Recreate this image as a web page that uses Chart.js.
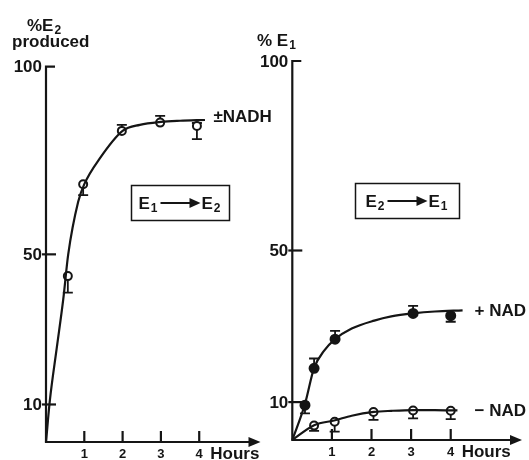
<!DOCTYPE html>
<html>
<head>
<meta charset="utf-8">
<script src="https://cdn.jsdelivr.net/npm/chart.js@4.4.0/dist/chart.umd.min.js"></script>
<style>
  html, body { margin: 0; padding: 0; background: #fff; }
  #wrap { position: relative; width: 529px; height: 460px; overflow: hidden; }
  #wrap canvas { position: absolute; top: 0; }
  #leftChart { left: 0; }
  #rightChart { left: 240px; }
</style>
</head>
<body>
<div id="wrap">
  <canvas id="leftChart" width="290" height="460"></canvas>
  <canvas id="rightChart" width="289" height="460"></canvas>
</div>
<script>
  const INK = '#151515';
  const FONT = '"Liberation Sans", Arial, Helvetica, sans-serif';

  // shared axis ticks
  const yTicks = [10, 50, 100];
  const xTicks = [1, 2, 3, 4];

  // left panel: E1 -> E2, % E2 produced (+/- NADH)
  const leftHours = [0.57, 0.97, 1.98, 2.98, 3.94];
  const leftPct = [44.2, 68.7, 82.9, 85.1, 84.2];
  const leftErrLow = [39.8, 65.8, null, null, 80.7];
  const leftErrHigh = [null, null, 84.5, 86.9, 85.0];
  const leftCurveHours = [0, 0.1, 0.28, 0.45, 0.58, 0.84, 1, 1.4, 2, 2.45, 3, 3.5, 4.15];
  const leftCurvePct = [0, 11, 25, 38, 50, 64, 68.7, 75.5, 82.9, 84.5, 85.3, 85.6, 85.8];

  // right panel: E2 -> E1, % E1 (+NAD filled, -NAD open)
  const plusHours = [0.32, 0.55, 1.08, 3.05, 4.0];
  const plusPct = [9.2, 18.9, 26.6, 33.4, 32.8];
  const plusErrLow = [7.0, null, null, null, 31.2];
  const plusErrHigh = [null, 21.5, 28.8, 35.4, null];
  const plusCurveHours = [0, 0.32, 0.55, 0.8, 1.08, 1.5, 2.07, 2.5, 3.05, 3.6, 4.3];
  const plusCurvePct = [0, 9.5, 19, 23.5, 26.6, 29.4, 31.5, 32.6, 33.4, 33.9, 34.2];

  const minusHours = [0.55, 1.07, 2.05, 3.05, 4.0];
  const minusPct = [3.8, 4.8, 7.4, 7.8, 7.7];
  const minusErrLow = [2.4, 2.2, 5.3, 5.7, 5.5];
  const minusErrHigh = [null, null, null, null, null];
  const minusCurveHours = [0, 0.55, 1.08, 1.5, 2.06, 2.5, 3.05, 3.6, 4.17];
  const minusCurvePct = [0, 3.9, 5.2, 6.4, 7.4, 7.7, 7.9, 7.9, 7.8];

  const toXY = (xs, ys) => xs.map((h, i) => ({ x: h, y: ys[i] }));

  function curve(xs, ys) {
    return {
      data: toXY(xs, ys),
      showLine: true,
      pointRadius: 0,
      borderColor: INK,
      borderWidth: 2.2,
      cubicInterpolationMode: 'monotone',
      clip: false
    };
  }

  function points(xs, ys, filled) {
    return {
      data: toXY(xs, ys),
      showLine: false,
      pointStyle: 'circle',
      pointRadius: filled ? 4.5 : 4,
      backgroundColor: filled ? INK : '#fff',
      borderColor: INK,
      borderWidth: 2,
      clip: false
    };
  }

  // text with a subscript, e.g. E + "2"
  function subText(ctx, x, y, main, sub, size) {
    ctx.font = `bold ${size}px ${FONT}`;
    ctx.fillText(main, x, y);
    const w = ctx.measureText(main).width;
    ctx.font = `bold ${Math.round(size * 0.68)}px ${FONT}`;
    ctx.fillText(sub, x + w + 1, y + size * 0.2);
    return w + 1 + ctx.measureText(sub).width;
  }

  function drawReaction(ctx, box, from, to) {
    ctx.lineWidth = 1.5;
    ctx.strokeRect(box.x, box.y, box.w, box.h);
    ctx.textAlign = 'left';
    ctx.textBaseline = 'alphabetic';
    const base = box.y + box.h / 2 + 6;
    const arrowLen = 40;
    ctx.font = `bold 17px ${FONT}`;
    const eW = ctx.measureText('E').width;
    ctx.font = `bold 12px ${FONT}`;
    const sW = ctx.measureText('1').width;
    const total = 2 * (eW + 1 + sW) + arrowLen + 6;
    let x = box.x + (box.w - total) / 2;
    x += subText(ctx, x, base, 'E', from, 17) + 3;
    const ay = base - 6;
    ctx.lineWidth = 2;
    ctx.beginPath(); ctx.moveTo(x, ay); ctx.lineTo(x + arrowLen - 9, ay); ctx.stroke();
    ctx.beginPath();
    ctx.moveTo(x + arrowLen, ay);
    ctx.lineTo(x + arrowLen - 11, ay - 5);
    ctx.lineTo(x + arrowLen - 11, ay + 5);
    ctx.closePath(); ctx.fill();
    x += arrowLen + 1;
    subText(ctx, x, base, 'E', to, 17);
  }

  function panelPlugin(cfg) {
    return {
      id: 'panel',
      beforeDatasetsDraw(chart) {
        const { ctx, scales: { x, y } } = chart;
        const x0 = x.getPixelForValue(0);
        const y0 = y.getPixelForValue(0);
        const xEnd = x.getPixelForValue(x.max);
        const yTop = y.getPixelForValue(100);
        ctx.save();
        ctx.strokeStyle = INK;
        ctx.fillStyle = INK;
        ctx.lineWidth = 2.2;

        // axes
        ctx.beginPath();
        ctx.moveTo(x0 + 9, yTop); ctx.lineTo(x0, yTop); ctx.lineTo(x0, y0); ctx.lineTo(xEnd - 8, y0);
        ctx.stroke();
        ctx.beginPath();
        ctx.moveTo(xEnd, y0); ctx.lineTo(xEnd - 12, y0 - 5); ctx.lineTo(xEnd - 12, y0 + 5);
        ctx.closePath(); ctx.fill();

        // y ticks
        ctx.font = `bold 17px ${FONT}`;
        ctx.textAlign = 'right';
        ctx.textBaseline = 'middle';
        yTicks.forEach(v => {
          const py = y.getPixelForValue(v);
          if (v !== 100) {
            ctx.beginPath(); ctx.moveTo(x0 - 4, py); ctx.lineTo(x0 + 10, py); ctx.stroke();
          }
          ctx.fillText(String(v), x0 - 4, py + 1);
        });

        // x ticks
        ctx.font = `bold 13px ${FONT}`;
        ctx.textAlign = 'center';
        xTicks.forEach(h => {
          const px = x.getPixelForValue(h);
          ctx.beginPath(); ctx.moveTo(px, y0); ctx.lineTo(px, y0 - 11); ctx.stroke();
          ctx.fillText(String(h), px, y0 + 12);
        });
        ctx.font = `bold 17px ${FONT}`;
        ctx.textAlign = 'left';
        ctx.fillText('Hours', x.getPixelForValue(4) + 11, y0 + 12);

        // error bars
        ctx.lineWidth = 1.8;
        cfg.errors.forEach(s => {
          s.hours.forEach((h, i) => {
            [s.low[i], s.high[i]].forEach(v => {
              if (v == null) return;
              const px = x.getPixelForValue(h);
              const p1 = y.getPixelForValue(s.pct[i]);
              const p2 = y.getPixelForValue(v);
              ctx.beginPath();
              ctx.moveTo(px, p1); ctx.lineTo(px, p2);
              ctx.moveTo(px - 5, p2); ctx.lineTo(px + 5, p2);
              ctx.stroke();
            });
          });
        });

        // series labels
        ctx.font = `bold 17px ${FONT}`;
        ctx.textAlign = 'left';
        ctx.textBaseline = 'middle';
        cfg.labels.forEach(l => {
          ctx.fillText(l.text, x.getPixelForValue(l.at[0]), y.getPixelForValue(l.at[1]));
        });

        // axis title
        ctx.textBaseline = 'alphabetic';
        cfg.title(ctx);

        drawReaction(ctx, cfg.box, cfg.reaction[0], cfg.reaction[1]);
        ctx.restore();
      }
    };
  }

  function makeChart(canvas, datasets, xMax, padding, cfg) {
    return new Chart(canvas, {
      type: 'scatter',
      data: { datasets },
      options: {
        responsive: false,
        animation: false,
        events: [],
        layout: { padding },
        plugins: { legend: { display: false }, tooltip: { enabled: false } },
        scales: {
          x: { type: 'linear', display: false, min: 0, max: xMax },
          y: { type: 'linear', display: false, min: 0, max: 100 }
        }
      },
      plugins: [panelPlugin(cfg)]
    });
  }

  makeChart(
    document.getElementById('leftChart'),
    [curve(leftCurveHours, leftCurvePct), points(leftHours, leftPct, false)],
    5.6,
    { left: 46, right: 29.5, top: 66.7, bottom: 18 },
    {
      errors: [{ hours: leftHours, pct: leftPct, low: leftErrLow, high: leftErrHigh }],
      labels: [{ text: '±NADH', at: [4.37, 86.5] }],
      reaction: ['1', '2'],
      box: { x: 131.5, y: 185.5, w: 98, h: 35 },
      title(ctx) {
        subText(ctx, 27, 31, '%E', '2', 17);
        ctx.font = `bold 17px ${FONT}`;
        ctx.fillText('produced', 12, 47);
      }
    }
  );

  makeChart(
    document.getElementById('rightChart'),
    [
      curve(plusCurveHours, plusCurvePct),
      curve(minusCurveHours, minusCurvePct),
      points(plusHours, plusPct, true),
      points(minusHours, minusPct, false)
    ],
    5.8,
    { left: 52.3, right: 7, top: 61, bottom: 20 },
    {
      errors: [
        { hours: plusHours, pct: plusPct, low: plusErrLow, high: plusErrHigh },
        { hours: minusHours, pct: minusPct, low: minusErrLow, high: minusErrHigh }
      ],
      labels: [
        { text: '+ NAD', at: [4.6, 34.0] },
        { text: '− NAD', at: [4.6, 7.6] }
      ],
      reaction: ['2', '1'],
      box: { x: 115.5, y: 183.5, w: 104, h: 35 },
      title(ctx) {
        subText(ctx, 17, 46, '% E', '1', 17);
      }
    }
  );
</script>
</body>
</html>
